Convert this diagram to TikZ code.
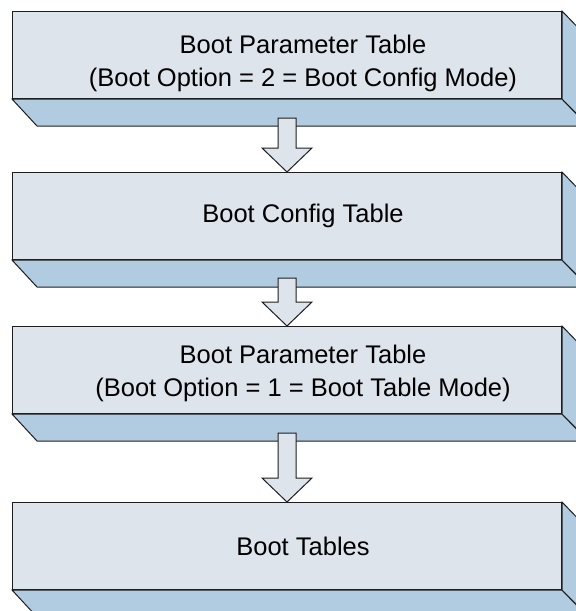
\documentclass[tikz,border=0pt]{standalone}
\usepackage{fontspec}
\setmainfont{Liberation Sans}
\usetikzlibrary{calc}
\definecolor{frontc}{RGB}{222,228,236}
\definecolor{sidec}{RGB}{177,203,224}
\definecolor{edgec}{RGB}{30,30,30}
\tikzset{
  frontbox/.style={draw=edgec, fill=frontc, line width=1pt, minimum width=549pt, minimum height=87pt, anchor=north west, inner sep=0pt},
  sideface/.style={draw=edgec, fill=sidec, line width=1pt, line join=miter},
  boxtext/.style={align=center, font=\fontsize{25.5}{33}\selectfont, inner sep=0pt},
  blockarr/.style={draw=edgec, fill=frontc, line width=1pt, line join=miter}
}
\begin{document}
\begin{tikzpicture}[x=1pt,y=-1pt]
\useasboundingbox (0,0) rectangle (576,611);
\clip (0,0) rectangle (576,611);
\fill[white] (0,0) rectangle (576,611);

\foreach \n/\yy in {b1/11, b2/172, b3/326, b4/502}{
  \node[frontbox] (\n) at (12,\yy) {};
  \draw[sideface] (\n.south west) -- (\n.south east) -- ++(26,27) -- ($(\n.south west)+(25,27)$) -- cycle;
  \draw[sideface] (\n.north east) -- ++(26,27) -- ++(0,87) -- (\n.south east) -- cycle;
}

\node[boxtext] (t1) at ($(b1.center)+(16,8)$) {Boot Parameter Table\\(Boot Option = 2 = Boot Config Mode)};
\node[boxtext] (t2) at ($(b2.center)+(16,0)$) {Boot Config Table};
\node[boxtext] (t3) at ($(b3.center)+(16,3)$) {Boot Parameter Table\\(Boot Option = 1 = Boot Table Mode)};
\node[boxtext] (t4) at ($(b4.center)+(16,0)$) {Boot Tables};

\draw[blockarr] (b2.north) -- ++(-25,-24) -- ++(16,0) -- ++(0,-30) -- ++(18,0) -- ++(0,30) -- ++(16,0) -- cycle;
\draw[blockarr] (b3.north) -- ++(-25,-24) -- ++(16,0) -- ++(0,-24) -- ++(18,0) -- ++(0,24) -- ++(16,0) -- cycle;
\draw[blockarr] (b4.north) -- ++(-25,-24) -- ++(16,0) -- ++(0,-45) -- ++(18,0) -- ++(0,45) -- ++(16,0) -- cycle;
\end{tikzpicture}
\end{document}
